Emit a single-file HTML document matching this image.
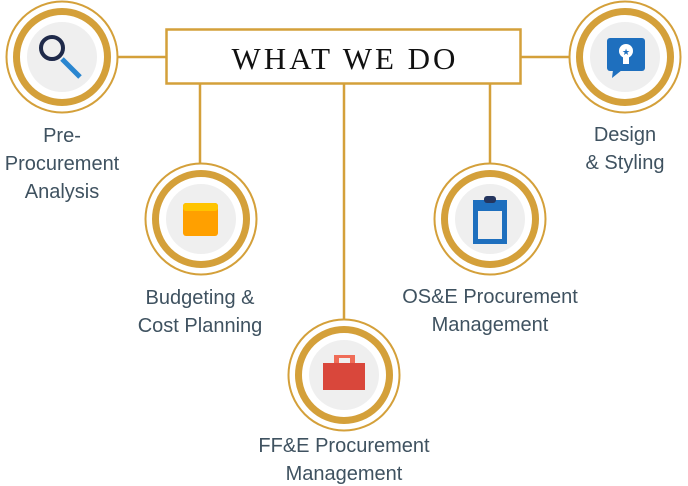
<!DOCTYPE html>
<html><head><meta charset="utf-8"><style>
html,body{margin:0;padding:0;background:#fff;}
svg{display:block}
.l{font-family:"Liberation Sans",sans-serif;font-size:20px;fill:#3f5260;text-anchor:middle}
</style></head><body>
<svg width="688" height="486" viewBox="0 0 688 486" xmlns="http://www.w3.org/2000/svg">
<g stroke="#d4a03a" stroke-width="2.5" fill="none">
<line x1="118" y1="57" x2="166" y2="57"/>
<line x1="521" y1="57" x2="570" y2="57"/>
<line x1="200" y1="84" x2="200" y2="164"/>
<line x1="344" y1="84" x2="344" y2="320"/>
<line x1="490" y1="84" x2="490" y2="164"/>
<rect x="166.5" y="29.5" width="354" height="54" fill="#fff"/>
</g>
<text x="345" y="69" text-anchor="middle" font-family="Liberation Serif,serif" font-size="31" letter-spacing="3" fill="#111">WHAT WE DO</text>
<defs>
<g id="c">
<circle r="55.5" fill="#fff" stroke="#d4a03a" stroke-width="2"/>
<circle r="45.5" fill="#fff" stroke="#d4a03a" stroke-width="7"/>
<circle r="35" fill="#efefef"/>
</g>
</defs>
<use href="#c" x="62" y="57"/>
<use href="#c" x="201" y="219"/>
<use href="#c" x="344" y="375"/>
<use href="#c" x="490" y="219"/>
<use href="#c" x="625" y="57"/>
<line x1="62" y1="59" x2="80" y2="77" stroke="#2a86d0" stroke-width="5"/>
<circle cx="52" cy="48" r="11" fill="none" stroke="#1f2a4a" stroke-width="4"/>
<rect x="183" y="203" width="35" height="33" rx="3" fill="#ffa000"/>
<rect x="183" y="203" width="35" height="8" rx="3" fill="#ffc400"/>
<rect x="334" y="355" width="21" height="10" fill="#ef6c57"/>
<rect x="339" y="358" width="11" height="5" fill="#efefef"/>
<rect x="323" y="363" width="42" height="27" fill="#d9473b"/>
<rect x="473" y="200" width="34" height="44" fill="#1e6fbe"/>
<rect x="478" y="211" width="24" height="28" fill="#efefef"/>
<rect x="484" y="196" width="12" height="7" rx="3" fill="#24355e"/>
<rect x="607" y="38" width="38" height="33" rx="3" fill="#1e6fbe"/>
<polygon points="613,70 622,70 612,78" fill="#1e6fbe"/>
<circle cx="626" cy="51" r="7" fill="#fff"/>
<rect x="623" y="56" width="6" height="8" fill="#fff"/>
<text x="626" y="55" font-size="9" text-anchor="middle" fill="#1e6fbe">★</text>
<text class="l" x="62" y="142">Pre-</text>
<text class="l" x="62" y="170">Procurement</text>
<text class="l" x="62" y="198">Analysis</text>
<text class="l" x="200" y="304">Budgeting &amp;</text>
<text class="l" x="200" y="332">Cost Planning</text>
<text class="l" x="490" y="303">OS&amp;E Procurement</text>
<text class="l" x="490" y="331">Management</text>
<text class="l" x="344" y="452">FF&amp;E Procurement</text>
<text class="l" x="344" y="480">Management</text>
<text class="l" x="625" y="141">Design</text>
<text class="l" x="625" y="169">&amp; Styling</text>
</svg>
</body></html>
